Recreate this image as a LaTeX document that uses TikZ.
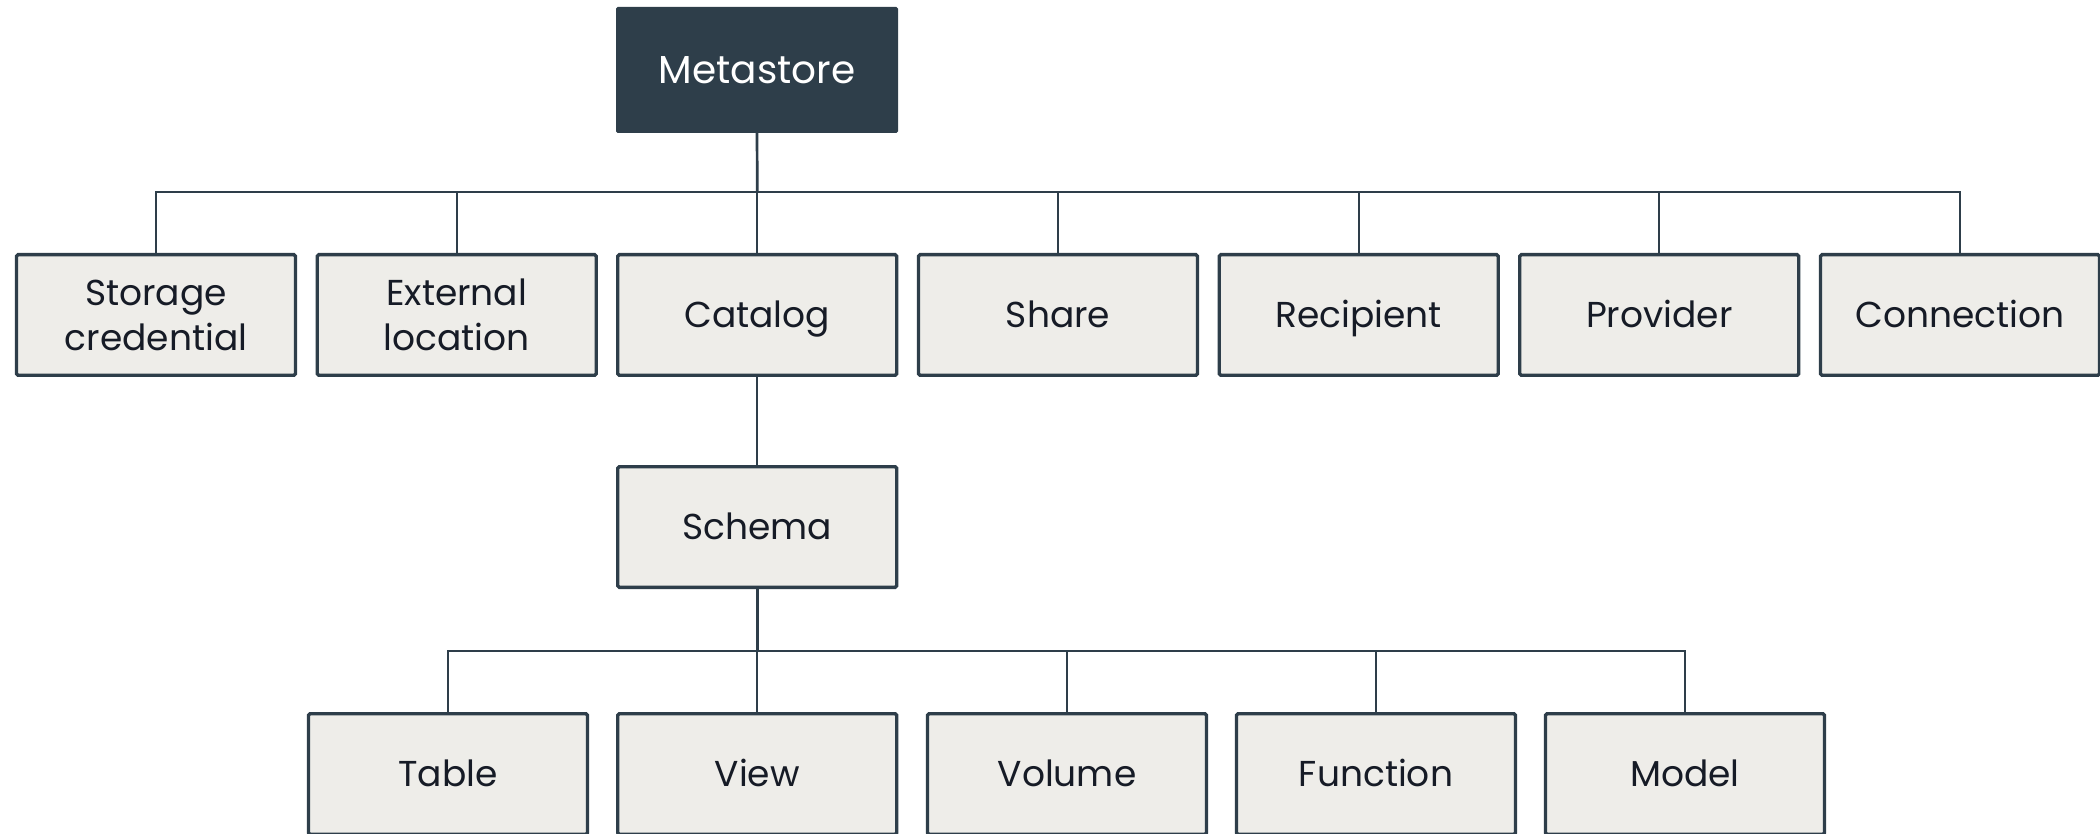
\documentclass[tikz,border=0pt]{standalone}
\usepackage{fontspec}
\setmainfont{Poppins}
\definecolor{slate}{HTML}{2E3E4A}
\definecolor{paper}{HTML}{EEEDE9}
\definecolor{ink}{HTML}{161B26}
\begin{document}
\begin{tikzpicture}[x=0.5pt,y=-0.5pt,
  objbox/.style={draw=slate, line width=1.65pt, fill=paper,
    minimum width=139.5pt, minimum height=60.35pt,
    inner sep=0pt, outer sep=0pt, text=ink, align=center,
    rounded corners=0.8pt,
    font=\fontsize{18}{22.5}\selectfont,
    text height=12.6pt, text depth=0pt},
  twoline/.style={text height=35.1pt, text depth=0pt},
  rootbox/.style={fill=slate, minimum width=141pt, minimum height=63pt,
    inner sep=0pt, outer sep=0pt, text=white, rounded corners=0.8pt,
    font=\fontsize{19.5}{22.5}\selectfont,
    text height=13.6pt, text depth=0pt},
  link/.style={draw=slate, line width=1pt, line cap=rect},
  stem/.style={draw=slate, line width=1.35pt}
]
\useasboundingbox (0,0) rectangle (2100,834);

% root
\node[rootbox] (meta) at (757,70) {Metastore};

% first level
\node[objbox,twoline] (cred) at (156,315)   {Storage\\credential};
\node[objbox,twoline] (loc)  at (456.7,315) {External\\location};
\node[objbox] (cat)  at (757.3,315)  {Catalog};
\node[objbox] (shr)  at (1058,315)   {Share};
\node[objbox] (rcp)  at (1358.7,315) {Recipient};
\node[objbox] (prv)  at (1659.3,315) {Provider};
\node[objbox] (con)  at (1960,315)   {Connection};

% schema level
\node[objbox] (sch) at (757.3,527) {Schema};

% objects inside a schema
\node[objbox] (tbl) at (448,774)    {Table};
\node[objbox] (vw)  at (757.3,774)  {View};
\node[objbox] (vol) at (1067,774)   {Volume};
\node[objbox] (fun) at (1376,774)   {Function};
\node[objbox] (mdl) at (1685,774)   {Model};

% bus coordinates
\coordinate (busA) at (757.3,192);
\coordinate (busB) at (757.3,651);

% metastore tree
\draw[stem] (meta.south) -- (busA);
\draw[link] (cred.north |- busA) -- (con.north |- busA);
\foreach \n in {cred,loc,cat,shr,rcp,prv,con}
  \draw[link] (\n.north |- busA) -- (\n.north);

% catalog to schema
\draw[link] (cat.south) -- (sch.north);

% schema tree
\draw[stem] (sch.south) -- (busB);
\draw[link] (tbl.north |- busB) -- (mdl.north |- busB);
\foreach \n in {tbl,vw,vol,fun,mdl}
  \draw[link] (\n.north |- busB) -- (\n.north);
\end{tikzpicture}
\end{document}
